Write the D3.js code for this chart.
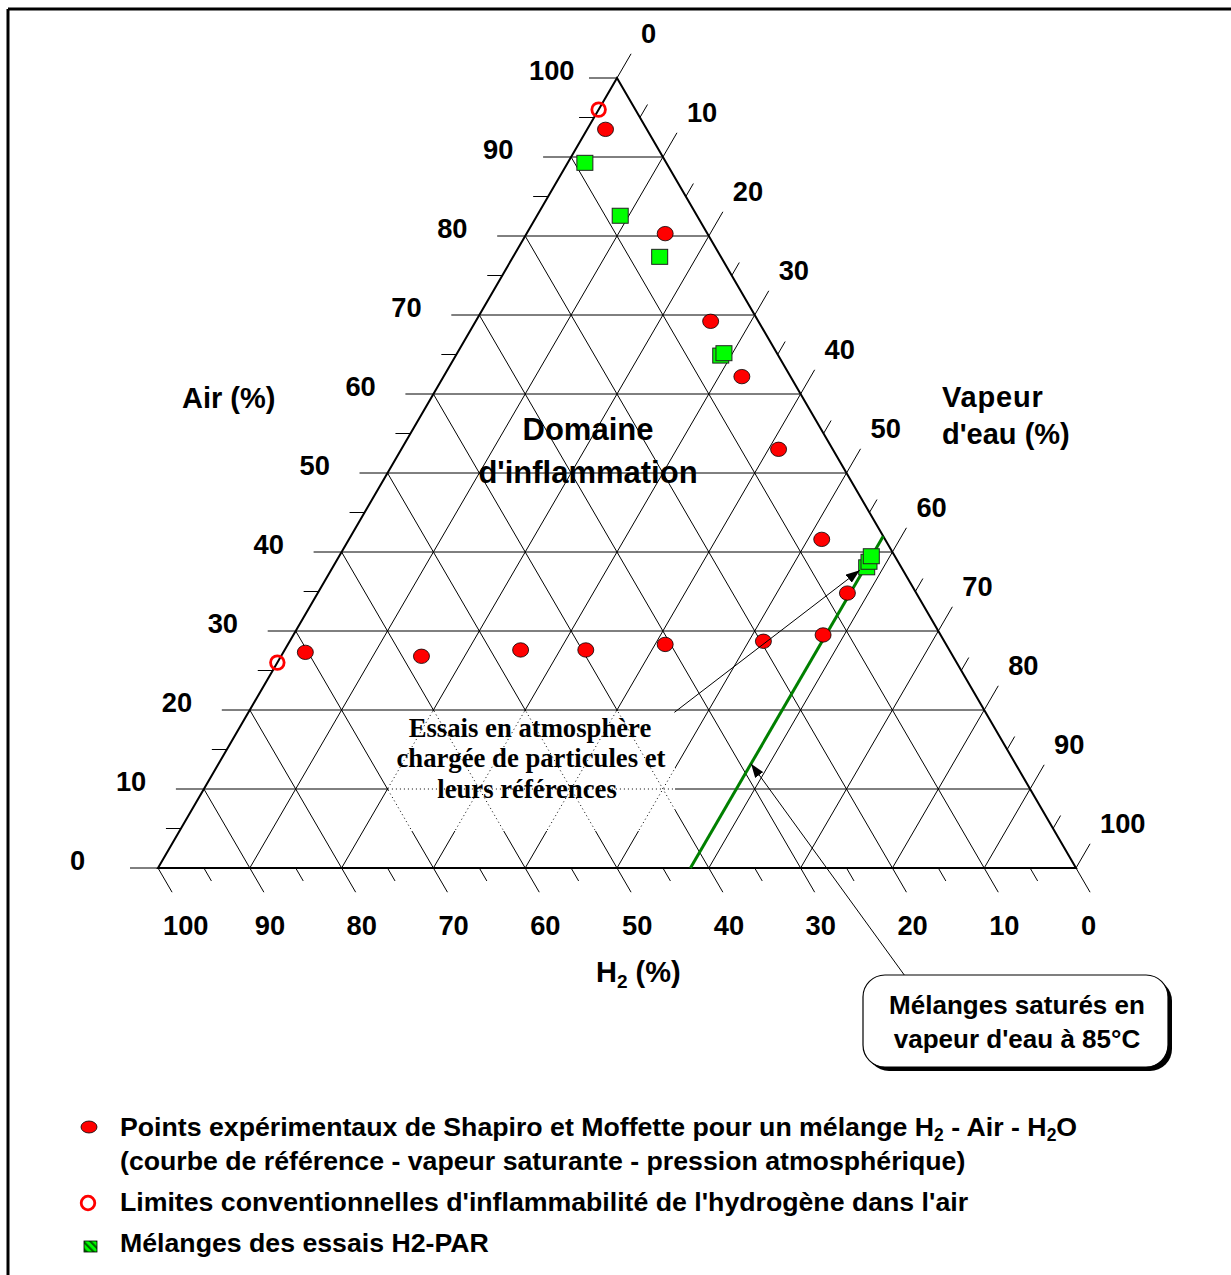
<!DOCTYPE html>
<html><head><meta charset="utf-8">
<script src="https://cdn.jsdelivr.net/npm/d3@7"></script>
<style>
body{margin:0;background:#fff}
svg{display:block}
text{font-weight:bold;fill:#000}
</style>
</head><body>
<svg id="c" width="1231" height="1275"></svg>
<script>
// ---------- data ----------
const majorTicks = [0,10,20,30,40,50,60,70,80,90,100];
const minorTicks = [5,15,25,35,45,55,65,75,85,95];
const tickLabels = ["0","10","20","30","40","50","60","70","80","90","100"];

// Shapiro & Moffette experimental points (H2 / Air / H2O %)
const shapiroH2  = [4.5,4.6,5.2,5.3,5.9,6.9,7.5,12.8,19.7,30.6,39.6,46.7,57.9,70.3];
const shapiroAir = [93.5,80.3,69.2,62.2,53.0,41.6,34.8,29.5,28.7,28.3,27.6,27.6,26.8,27.3];
const shapiroVap = [2.0,15.1,25.6,32.5,41.1,51.5,57.7,57.7,51.6,41.1,32.8,25.7,15.3,2.4];

// Conventional flammability limits of hydrogen in air
const limitH2  = [4,74];
const limitAir = [96,26];
const limitVap = [0,0];

// H2-PAR test mixtures
const parH2  = [8.9,8.4,6.7,6.3,5.8,3.8,3.2,2.6];
const parAir = [89.2,82.5,77.3,64.8,65.1,38.0,38.7,39.4];
const parVap = [1.9,9.1,16.0,28.9,29.1,58.2,58.1,58.0];

// Saturated mixtures at 85°C : constant water vapour fraction
const satVap = 58;
const satAirRange = [0,42];

// annotation anchors (ternary: air, vap)
const arrowParticles = {from:[19.7,46.4], to:[37.7,57.6]};
const arrowSat = {to:[13.2,58]};

const legendLines = [
  "Points expérimentaux de Shapiro et Moffette pour un mélange H",
  "(courbe de référence - vapeur saturante - pression atmosphérique)",
  "Limites conventionnelles d'inflammabilité de l'hydrogène dans l'air",
  "Mélanges des essais H2-PAR"
];

const SANS = "'Liberation Sans',Arial,Helvetica,sans-serif";
const SERIF = "'Liberation Serif','Times New Roman',serif";

// ---------- scales ----------
const xS = d3.scaleLinear().domain([0,100]).range([158,1076]);
const yS = d3.scaleLinear().domain([0,100]).range([868,78]);
const P = (air, vap) => [xS(vap + air/2), yS(air)];

const svg = d3.select("#c");
const defs = svg.append("defs");

function txt(g, x, y, s, size, anchor, family){
  return g.append("text").attr("x",x).attr("y",y)
    .attr("text-anchor",anchor||"start")
    .style("font-family",family||SANS).style("font-size",size+"px").style("font-weight","bold")
    .text(s);
}

// frame (top + left only)
svg.append("line").attr("x1",8).attr("y1",9).attr("x2",1231).attr("y2",9).attr("stroke","#000").attr("stroke-width",3);
svg.append("line").attr("x1",8).attr("y1",9).attr("x2",8).attr("y2",1275).attr("stroke","#000").attr("stroke-width",3);

// unit directions
const L = Math.hypot(459,790);
const up = [459/L, -790/L], down = [459/L, 790/L];

function gridLines(g, ks){
  ks.forEach(k=>{
    let a = P(k,0), b = P(k,100-k);
    g.append("line").attr("x1",a[0]).attr("y1",a[1]).attr("x2",b[0]).attr("y2",b[1]);
    a = P(0,k); b = P(100-k,k);
    g.append("line").attr("x1",a[0]).attr("y1",a[1]).attr("x2",b[0]).attr("y2",b[1]);
    a = P(100-k,0); b = P(0,100-k);
    g.append("line").attr("x1",a[0]).attr("y1",a[1]).attr("x2",b[0]).attr("y2",b[1]);
  });
}
const inner = majorTicks.filter(k=>k>0 && k<100);
const grid = svg.append("g").attr("stroke","#000").attr("stroke-width",1);
gridLines(grid, inner);

// ticks
const ticks = svg.append("g").attr("stroke","#000").attr("stroke-width",1);
function addTicks(list, len){
  list.forEach(k=>{
    let p = P(k,0);
    ticks.append("line").attr("x1",p[0]).attr("y1",p[1]).attr("x2",p[0]-len).attr("y2",p[1]);
    p = P(100-k,k);
    ticks.append("line").attr("x1",p[0]).attr("y1",p[1]).attr("x2",p[0]+up[0]*len).attr("y2",p[1]+up[1]*len);
    p = P(0,100-k);
    ticks.append("line").attr("x1",p[0]).attr("y1",p[1]).attr("x2",p[0]+down[0]*len).attr("y2",p[1]+down[1]*len);
  });
}
addTicks(majorTicks, 28);
addTicks(minorTicks, 15);

// triangle outline
const tri = [P(0,0), P(100,0), P(0,100)];
svg.append("path").attr("d","M"+tri.map(p=>p.join(",")).join("L")+"Z")
  .attr("fill","none").attr("stroke","#000").attr("stroke-width",2).attr("stroke-linejoin","miter");

// tick labels
const lab = svg.append("g");
majorTicks.forEach((k,i)=>{
  let p = P(k,0);
  txt(lab, p[0]-88, p[1]+1.5, tickLabels[i], 27.3);
  p = P(100-k,k);
  txt(lab, p[0]+24, p[1]-35, tickLabels[i], 27.3);
  p = P(0,100-k);
  txt(lab, p[0]+5, 935, tickLabels[i], 27.3);
});

// axis titles
txt(svg, 182, 408, "Air (%)", 29);
txt(svg, 942, 407, "Vapeur", 29).style("letter-spacing","0.8px");
txt(svg, 942, 444, "d'eau (%)", 29);
const h2t = txt(svg, 596, 982, "", 29);
h2t.append("tspan").text("H");
h2t.append("tspan").attr("dy",6).style("font-size","19px").text("2");
h2t.append("tspan").attr("dy",-6).text(" (%)");

// domain title
txt(svg, 588, 440, "Domaine", 31, "middle");
txt(svg, 588, 483, "d'inflammation", 31, "middle");

// particle text box (white, gridlines dotted behind)
const box = {x:388,y:711,w:287,h:120};
defs.append("clipPath").attr("id","boxclip").append("rect").attr("x",box.x).attr("y",box.y).attr("width",box.w).attr("height",box.h);
svg.append("rect").attr("x",box.x).attr("y",box.y).attr("width",box.w).attr("height",box.h).attr("fill","#fff");
const dg = svg.append("g").attr("clip-path","url(#boxclip)").attr("stroke","#000").attr("stroke-width",1).attr("stroke-dasharray","1,3");
gridLines(dg, inner);
txt(svg, 530, 737, "Essais en atmosphère", 26.7, "middle", SERIF);
txt(svg, 531, 767, "chargée de particules et", 26.7, "middle", SERIF);
txt(svg, 527, 798, "leurs références", 26.7, "middle", SERIF);

// saturation line
const sa = P(satAirRange[0],satVap), sb = P(satAirRange[1],satVap);
svg.append("line").attr("x1",sa[0]).attr("y1",sa[1]).attr("x2",sb[0]).attr("y2",sb[1])
  .attr("stroke","#008000").attr("stroke-width",3);

// arrow marker
defs.append("marker").attr("id","arr").attr("markerUnits","userSpaceOnUse")
  .attr("viewBox","0 0 14 10").attr("markerWidth",14).attr("markerHeight",10)
  .attr("refX",14).attr("refY",5).attr("orient","auto")
  .append("path").attr("d","M0,0L14,5L0,10Z").attr("fill","#000");

// Shapiro points
svg.append("g").selectAll("ellipse").data(shapiroAir).join("ellipse")
  .attr("cx",(d,i)=>P(d,shapiroVap[i])[0]).attr("cy",(d,i)=>P(d,shapiroVap[i])[1])
  .attr("rx",8).attr("ry",7.2).attr("fill","#ff0000").attr("stroke","#000").attr("stroke-width",0.8);

// limits
svg.append("g").selectAll("circle").data(limitAir).join("circle")
  .attr("cx",(d,i)=>P(d,limitVap[i])[0]).attr("cy",(d,i)=>P(d,limitVap[i])[1])
  .attr("r",6.8).attr("fill","none").attr("stroke","#ff0000").attr("stroke-width",2.8);

// PAR squares
svg.append("g").selectAll("rect").data(parAir).join("rect")
  .attr("x",(d,i)=>P(d,parVap[i])[0]-8).attr("y",(d,i)=>P(d,parVap[i])[1]-8)
  .attr("width",16).attr("height",15).attr("fill","#00ff00").attr("stroke","#222").attr("stroke-width",1);

// arrows
const a1 = P(...arrowParticles.from), a2 = P(...arrowParticles.to);
svg.append("line").attr("x1",a1[0]).attr("y1",a1[1]).attr("x2",a2[0]).attr("y2",a2[1])
  .attr("stroke","#000").attr("stroke-width",1).attr("marker-end","url(#arr)");
const s2 = P(...arrowSat.to);
svg.append("line").attr("x1",905).attr("y1",976).attr("x2",s2[0]).attr("y2",s2[1])
  .attr("stroke","#000").attr("stroke-width",1).attr("marker-end","url(#arr)");

// callout box
svg.append("rect").attr("x",867).attr("y",979).attr("width",305).attr("height",92).attr("rx",22)
  .attr("fill","#000");
svg.append("rect").attr("x",863).attr("y",975).attr("width",305).attr("height",92).attr("rx",22)
  .attr("fill","#fff").attr("stroke","#000").attr("stroke-width",1.2);
txt(svg, 1017, 1014, "Mélanges saturés en", 26, "middle");
txt(svg, 1017, 1048, "vapeur d'eau à 85°C", 26, "middle");

// legend
const leg = svg.append("g");
const LF = 26.7;
const t1 = txt(leg, 120, 1136, "", LF);
t1.append("tspan").text(legendLines[0]);
t1.append("tspan").attr("dy",5).style("font-size","17.5px").text("2");
t1.append("tspan").attr("dy",-5).text(" - Air - H");
t1.append("tspan").attr("dy",5).style("font-size","17.5px").text("2");
t1.append("tspan").attr("dy",-5).text("O");
txt(leg, 120, 1170, legendLines[1], LF);
txt(leg, 120, 1211, legendLines[2], LF);
txt(leg, 120, 1252, legendLines[3], LF);

leg.append("ellipse").attr("cx",89).attr("cy",1127).attr("rx",8).attr("ry",6)
  .attr("fill","#ff0000").attr("stroke","#000").attr("stroke-width",0.8);
leg.append("circle").attr("cx",88).attr("cy",1203).attr("r",6.8)
  .attr("fill","none").attr("stroke","#ff0000").attr("stroke-width",2.8);
const pat = defs.append("pattern").attr("id","hatch").attr("patternUnits","userSpaceOnUse")
  .attr("width",5).attr("height",5).attr("patternTransform","rotate(-45)");
pat.append("rect").attr("width",5).attr("height",5).attr("fill","#00ff00");
pat.append("rect").attr("width",2.2).attr("height",5).attr("fill","#006400");
leg.append("rect").attr("x",84).attr("y",1241).attr("width",13).attr("height",11)
  .attr("fill","url(#hatch)").attr("stroke","#000").attr("stroke-width",0.8);
</script>
</body></html>
